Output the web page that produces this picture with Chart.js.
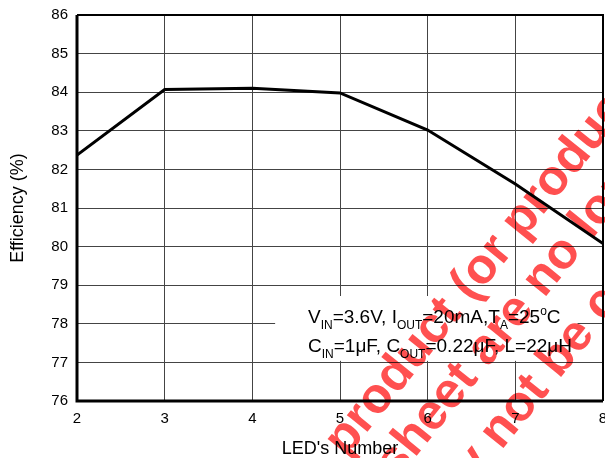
<!DOCTYPE html>
<html>
<head>
<meta charset="utf-8">
<script src="https://cdn.jsdelivr.net/npm/chart.js@4/dist/chart.umd.min.js"></script>
<style>
  html, body { margin: 0; padding: 0; background: #fff; }
</style>
</head>
<body>
<canvas id="effChart" width="605" height="458"></canvas>
<script>
const ledCounts = [2, 3, 4, 5, 6, 7, 8];
const efficiency = [82.37, 84.07, 84.1, 83.98, 83.02, 81.62, 80.08];
const yTicks = [76, 77, 78, 79, 80, 81, 82, 83, 84, 85, 86];
const xTicks = [2, 3, 4, 5, 6, 7, 8];

// test conditions, drawn as text inside the plot (segments: text, kind)
const noteLine1 = [['V', ''], ['IN', 'sub'], ['=3.6V, I', ''], ['OUT', 'sub'], ['=20mA,T', ''], ['A', 'sub'], ['=25', ''], ['o', 'sup'], ['C', '']];
const noteLine2 = [['C', ''], ['IN', 'sub'], ['=1\u03bcF, C', ''], ['OUT', 'sub'], ['=0.22\u03bcF, L=22\u03bcH', '']];

const watermark = ['product (or products', 'sheet are no lon', 'y not be co'];

const FONT = '"Liberation Sans", Arial, sans-serif';

function drawSegments(ctx, segs, x, y) {
    segs.forEach(([txt, kind]) => {
        let dy = 0;
        if (kind === 'sub') { ctx.font = '12px ' + FONT; dy = 6; }
        else if (kind === 'sup') { ctx.font = '12px ' + FONT; dy = -8; }
        else { ctx.font = '19px ' + FONT; }
        ctx.fillText(txt, x, y + dy);
        x += ctx.measureText(txt).width;
    });
}

const notePlugin = {
    id: 'notePlugin',
    beforeDatasetsDraw(chart) {
        const ctx = chart.ctx;
        const xs = chart.scales.x, ys = chart.scales.y;
        const l = xs.getPixelForValue(4.26), r = xs.getPixelForValue(7.71);
        const t = ys.getPixelForValue(78.72), b = ys.getPixelForValue(77.04);
        ctx.save();
        ctx.fillStyle = '#fff';
        ctx.fillRect(l, t, r - l, b - t);

        // red watermark, multiplied so the grid stays dark through it
        ctx.globalCompositeOperation = 'multiply';
        ctx.fillStyle = 'rgb(255, 80, 80)';
        ctx.font = 'bold 50px ' + FONT;
        ctx.textBaseline = 'alphabetic';
        ctx.textAlign = 'left';
        const ang = -51 * Math.PI / 180;
        const starts = [[336, 450], [387, 472], [465, 475]];
        watermark.forEach((w, i) => {
            ctx.save();
            ctx.translate(starts[i][0], starts[i][1]);
            ctx.rotate(ang);
            ctx.fillText(w, 0, 13);
            ctx.restore();
        });
        ctx.globalCompositeOperation = 'source-over';

        ctx.fillStyle = '#000';
        const tx = xs.getPixelForValue(4.635);
        drawSegments(ctx, noteLine1, tx, ys.getPixelForValue(78.02));
        drawSegments(ctx, noteLine2, tx, ys.getPixelForValue(77.27));
        ctx.restore();
    },
    afterDraw(chart) {
        const ctx = chart.ctx;
        const a = chart.chartArea;
        ctx.save();
        ctx.strokeStyle = '#000';
        ctx.lineWidth = 3;
        ctx.beginPath();
        ctx.moveTo(a.left, a.top); ctx.lineTo(a.left, a.bottom); ctx.lineTo(a.right, a.bottom);
        ctx.stroke();
        ctx.lineWidth = 2;
        ctx.beginPath();
        ctx.moveTo(a.left, a.top); ctx.lineTo(a.right, a.top); ctx.lineTo(a.right, a.bottom);
        ctx.stroke();
        ctx.restore();
    }
};

const ctx = document.getElementById('effChart').getContext('2d');
new Chart(ctx, {
    type: 'line',
    data: {
        labels: ledCounts,
        datasets: [{
            label: 'Efficiency',
            data: ledCounts.map((x, i) => ({ x: x, y: efficiency[i] })),
            borderColor: '#000',
            borderWidth: 3,
            pointRadius: 0,
            tension: 0,
            fill: false
        }]
    },
    options: {
        responsive: false,
        animation: false,
        devicePixelRatio: 1,
        layout: { padding: { top: 15, right: 2, left: 0, bottom: 0 } },
        plugins: { legend: { display: false }, tooltip: { enabled: false } },
        scales: {
            x: {
                type: 'linear',
                min: 2,
                max: 8,
                afterFit(scale) { scale.height = 57; scale.paddingLeft = 0; scale.paddingRight = 0; },
                afterBuildTicks(scale) { scale.ticks = xTicks.map(v => ({ value: v })); },
                grid: { color: '#444', lineWidth: 1, drawTicks: false },
                border: { display: false },
                ticks: { color: '#000', font: { family: FONT, size: 15 }, padding: 9 },
                title: { display: true, text: "LED's Number", color: '#000', font: { family: FONT, size: 18 }, padding: { top: 0, bottom: -2 } }
            },
            y: {
                min: 76,
                max: 86,
                afterFit(scale) { scale.width = 77; scale.paddingTop = 0; scale.paddingBottom = 0; },
                afterBuildTicks(scale) { scale.ticks = yTicks.map(v => ({ value: v })); },
                grid: { color: '#444', lineWidth: 1, drawTicks: false },
                border: { display: false },
                ticks: { color: '#000', font: { family: FONT, size: 15 }, padding: 9 },
                title: { display: true, text: 'Efficiency (%)', color: '#000', font: { family: FONT, size: 18 }, padding: { top: 7, bottom: 0 } }
            }
        }
    },
    plugins: [notePlugin]
});
</script>
</body>
</html>
